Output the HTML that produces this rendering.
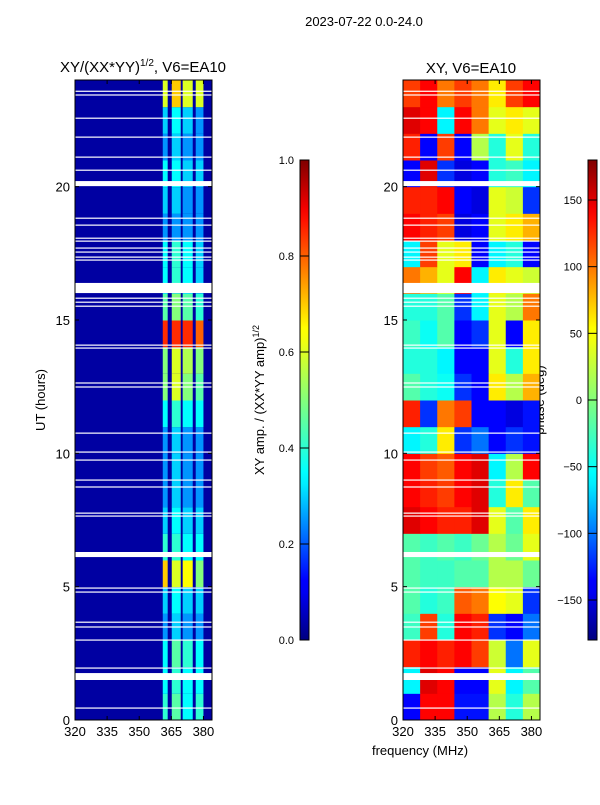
<!DOCTYPE html>
<html><head><meta charset="utf-8"><style>
body{margin:0;background:#fff;width:600px;height:800px;overflow:hidden}
svg text{font-family:"Liberation Sans",sans-serif;fill:#000}
</style></head><body>
<svg id="fig" width="600" height="800" xmlns="http://www.w3.org/2000/svg">
<text x="364" y="26" font-size="13" text-anchor="middle">2023-07-22 0.0-24.0</text>
<text x="143" y="72" font-size="15" text-anchor="middle">XY/(XX*YY)<tspan font-size="10" dy="-6">1/2</tspan><tspan dy="6">, V6=EA10</tspan></text>
<text x="471" y="73" font-size="15" text-anchor="middle">XY, V6=EA10</text>
<text transform="translate(45,400) rotate(-90)" font-size="13" text-anchor="middle">UT (hours)</text>
<text x="420" y="755" font-size="13" text-anchor="middle">frequency (MHz)</text>
<text transform="translate(264,400) rotate(-90)" font-size="13" text-anchor="middle">XY amp. / (XX*YY amp)<tspan font-size="9" dy="-5">1/2</tspan></text>
<text transform="translate(544,400) rotate(-90)" font-size="13" text-anchor="middle">phase (deg)</text>
<g id="ampPanel"></g>
<g id="phPanel"></g>
<g id="axes"></g>
</svg>
<script>
const freqEdges=[320,328,336,344,352,360,368,376,384];
const phaseRows=[
[-140,140,140,-130,-130,20,-40,20],
[-60,150,140,-140,-140,40,-60,-20],
[130,140,130,140,120,30,-100,40],
[-30,120,-40,140,130,-120,-140,-100],
[-20,-40,-30,110,100,50,40,-120],
[-20,-30,-30,-20,-20,20,20,-10],
[-20,-30,-20,-30,-10,20,-10,40],
[150,140,130,130,150,40,-20,60],
[140,130,120,140,150,-40,60,-20],
[140,120,110,140,150,-60,20,140],
[-60,-40,60,-120,-100,-140,-120,-130],
[130,-120,100,120,-140,-140,-150,-130],
[-20,-40,-50,-120,-140,60,20,80],
[-40,-40,-60,-140,-140,40,-40,60],
[-30,-50,-20,-140,-120,40,-140,60],
[-40,-40,-20,-120,-60,40,20,100],
[100,80,40,140,-60,60,40,30],
[-60,120,40,60,-140,-60,-40,-140],
[140,130,120,-150,-140,40,60,80],
[130,130,140,-140,-150,40,30,-120],
[-140,150,-120,-150,-140,-40,-30,-60],
[130,-140,120,-140,20,-40,40,-40],
[150,140,-60,140,100,40,60,40],
[120,140,100,120,100,60,120,140]];
const ampBandStart=[361,365.2,370.3,376.4];
const ampBandEnd=[363.3,369.4,375,380];
const ampBackground=0.03;
const ampRows=[
[0.4,0.45,0.35,0.4],[0.35,0.4,0.35,0.35],[0.35,0.45,0.4,0.35],[0.25,0.3,0.25,0.25],
[0.3,0.35,0.3,0.3],[0.7,0.6,0.65,0.5],[0.4,0.4,0.35,0.35],[0.3,0.35,0.3,0.3],
[0.25,0.3,0.25,0.25],[0.25,0.3,0.25,0.25],[0.25,0.3,0.25,0.25],[0.35,0.4,0.35,0.35],
[0.5,0.6,0.5,0.45],[0.5,0.6,0.55,0.5],[0.85,0.85,0.85,0.8],[0.45,0.5,0.45,0.4],
[0.35,0.4,0.35,0.3],[0.35,0.4,0.35,0.3],[0.25,0.25,0.25,0.25],[0.3,0.3,0.25,0.25],
[0.35,0.35,0.3,0.3],[0.25,0.3,0.25,0.25],[0.3,0.35,0.3,0.25],[0.6,0.7,0.6,0.6]];
const gapStart=[23.56,23.42,22.55,21.84,21.09,20.6,20.02,18.8,18.54,18.05,17.94,17.68,17.53,17.34,17.23,16.01,15.8,15.65,15.5,14.04,13.93,12.62,12.47,10.74,10.03,9.73,8.98,8.72,7.74,7.63,6.11,4.93,4.78,3.65,3.47,2.98,1.93,1.5,0.43];
const gapEnd=[23.6,23.46,22.59,21.88,21.13,20.64,20.21,18.84,18.58,18.09,17.98,17.72,17.57,17.38,17.27,16.39,15.84,15.69,15.54,14.08,13.97,12.66,12.51,10.78,10.07,9.77,9.02,8.76,7.78,7.67,6.3,4.97,4.82,3.69,3.51,3.02,1.97,1.76,0.47];
const xTicks=[320,335,350,365,380];
const yTicks=[0,5,10,15,20];
const ampCbTicks=[0.0,0.2,0.4,0.6,0.8,1.0];
const phCbTicks=[-150,-100,-50,0,50,100,150];

const NS="http://www.w3.org/2000/svg";
function jet(v){v=Math.max(0,Math.min(1,v));
 const st=[[0,0,0,.5],[.11,0,0,1],[.125,0,0,1],[.34,0,1,1],[.35,0,1,1],[.64,1,1,0],[.65,1,1,0],[.89,1,0,0],[1,.5,0,0]];
 for(let i=1;i<st.length;i++){if(v<=st[i][0]){const a=st[i-1],b=st[i],t=(v-a[0])/((b[0]-a[0])||1);
  return `rgb(${[1,2,3].map(k=>Math.round(255*(a[k]+(b[k]-a[k])*t))).join(',')})`;}}return 'rgb(128,0,0)';}
function el(t,a,p){const e=document.createElementNS(NS,t);for(const k in a)e.setAttribute(k,a[k]);p.appendChild(e);return e;}
const yTop=80,yBot=720;
function ys(h){return yBot-(yBot-yTop)*h/24;}
function xsL(f){return 75+(212-75)*(f-320)/64;}
function xsR(f){return 403+(540-403)*(f-320)/64;}
const amp=document.getElementById('ampPanel'),ph=document.getElementById('phPanel'),ax=document.getElementById('axes');
for(let r=0;r<ampRows.length;r++){
 const y0=ys(r+1),y1=ys(r);
 const bg=el('rect',{x:xsL(320),y:y0,width:xsL(384)-xsL(320),height:y1-y0+0.5,fill:jet(ampBackground)},amp);
 
 
 for(let b=0;b<ampBandStart.length;b++){
  const c=el('rect',{x:xsL(ampBandStart[b]),y:y0,width:xsL(ampBandEnd[b])-xsL(ampBandStart[b]),height:y1-y0+0.5,fill:jet(ampRows[r][b])},amp);
  
  
 }
}
for(let r=0;r<phaseRows.length;r++){
 const y0=ys(r+1),y1=ys(r);
 for(let c=0;c<freqEdges.length-1;c++){
  const x0=xsR(freqEdges[c]),x1=xsR(freqEdges[c+1]);
  const cell=el('rect',{x:x0,y:y0,width:x1-x0+0.5,height:y1-y0+0.5,fill:jet((phaseRows[r][c]+180)/360)},ph);
  
  
 }
}
for(let i=0;i<gapStart.length;i++){
 const y0=ys(gapEnd[i]),y1=ys(gapStart[i]);
 [[xsL,amp],[xsR,ph]].forEach(([f,p])=>{
  const g=el('rect',{x:f(320),y:y0,width:f(384)-f(320),height:Math.max(1.2,y1-y0),fill:'#fff'},p);
  
  
 });
}
[[75,212,xsL],[403,540,xsR]].forEach(([x0,x1,f])=>{
 el('rect',{x:x0,y:yTop,width:x1-x0,height:yBot-yTop,fill:'none',stroke:'#000','stroke-width':1},ax);
 xTicks.forEach(t=>{const x=f(t);
  el('line',{x1:x,x2:x,y1:yBot,y2:yBot-4,stroke:'#000'},ax);
  el('line',{x1:x,x2:x,y1:yTop,y2:yTop+4,stroke:'#000'},ax);
  const tx=el('text',{x:x,y:yBot+16,'font-size':13,'text-anchor':'middle'},ax);tx.textContent=t;
  
  
 });
 yTicks.forEach(t=>{const y=ys(t);
  el('line',{x1:x0,x2:x0+4,y1:y,y2:y,stroke:'#000'},ax);
  el('line',{x1:x1,x2:x1-4,y1:y,y2:y,stroke:'#000'},ax);
  const tx=el('text',{x:x0-5,y:y+5,'font-size':13,'text-anchor':'end'},ax);tx.textContent=t;
  
  
 });
});
function cbar(x,lo,hi,ticks,id,fmt){
 const defs=el('defs',{},ax);const lg=el('linearGradient',{id:id,x1:0,y1:1,x2:0,y2:0},defs);
 for(let i=0;i<=40;i++)el('stop',{offset:i/40,'stop-color':jet(i/40)},lg);
 const r=el('rect',{x:x,y:160,width:9,height:480,fill:`url(#${id})`,stroke:'#000','stroke-width':1},ax);
 
 
 ticks.forEach(t=>{const y=640-480*(t-lo)/(hi-lo);
  el('line',{x1:x,x2:x+9,y1:y,y2:y,stroke:'#000'},ax);
  const tx=el('text',{x:x-6,y:y+4,'font-size':11,'text-anchor':'end'},ax);tx.textContent=fmt(t);
  
  
 });
}
cbar(300,0,1,ampCbTicks,'amp-colorbar',t=>t.toFixed(1));
cbar(588,-180,180,phCbTicks,'phase-colorbar',t=>t<0?'\u2212'+(-t):String(t));
</script>
</body></html>
